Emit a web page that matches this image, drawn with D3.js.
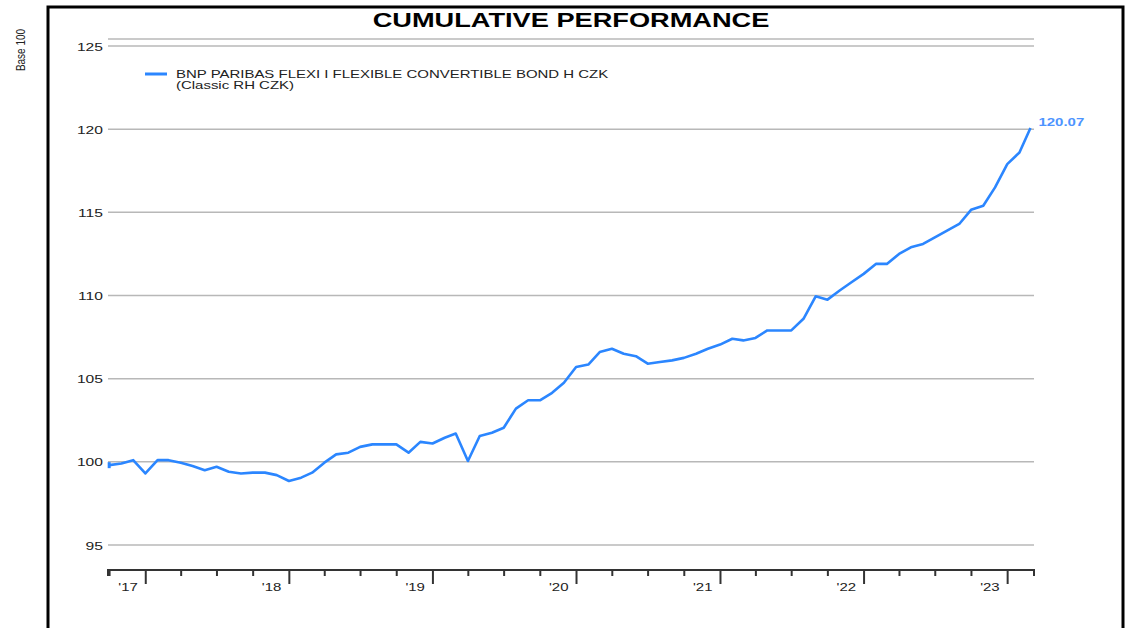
<!DOCTYPE html>
<html>
<head>
<meta charset="utf-8">
<script src="https://cdn.jsdelivr.net/npm/d3@7"></script>
<style>
	body { margin: 0; background: #fff; }
	text { font-family: "Liberation Sans", Arial, sans-serif; }
</style>
</head>
<body>
<svg id="chart"></svg>
<script>
// monthly index values (base 100), month ends from Sep 2016
var values = [
	99.8, 99.9, 100.1, 99.3, 100.1, 100.1, 99.95, 99.75, 99.5, 99.7, 99.4, 99.3,
	99.35, 99.35, 99.2, 98.85, 99.05, 99.35, 99.95, 100.45, 100.55, 100.9, 101.05, 101.05,
	101.05, 100.55, 101.2, 101.1, 101.45, 101.7, 100.05, 101.55, 101.75, 102.05, 103.2, 103.7,
	103.7, 104.15, 104.75, 105.7, 105.85, 106.6, 106.8, 106.5, 106.35, 105.9, 106.0, 106.1,
	106.25, 106.5, 106.8, 107.05, 107.4, 107.3, 107.45, 107.9, 107.9, 107.9, 108.6, 109.95,
	109.75, 110.3, 110.8, 111.3, 111.9, 111.9, 112.5, 112.9, 113.1, 113.5, 113.9, 114.3,
	115.15, 115.4, 116.5, 117.9, 118.6, 120.07
];
var yTicks = [95, 100, 105, 110, 115, 120, 125];
var years = [2017, 2018, 2019, 2020, 2021, 2022, 2023];
var yearLabels = ["'17", "'18", "'19", "'20", "'21", "'22", "'23"];
var seriesName = ["BNP PARIBAS FLEXI I FLEXIBLE CONVERTIBLE BOND H CZK", "(Classic RH CZK)"];
var lastLabel = "120.07";

var dates = values.map(function(v, i) { return new Date(2016, 9 + i, 0); });
var data = values.map(function(v, i) { return {time: dates[i], value: v}; });

var W = 1132, H = 628;
var SX = 1.36; // the picture is stretched sideways, text too
var left = 108, right = 1034, plotTop = 39, plotBottom = 570;
var blue = "#2b86ff";

var x = d3.scaleTime().domain([new Date(2016, 8, 27), new Date(2023, 2, 9)]).range([left, right]);
var y = d3.scaleLinear().domain([95, 125]).range([545, 46]);

var svg = d3.select("#chart").attr("width", W).attr("height", H);

function place(t, px, py) {
	return t.attr("transform", "translate(" + px + "," + py + ") scale(" + SX + ",1)");
}

// frame
svg.append("rect").attr("x", 48).attr("y", 7).attr("width", 1075).attr("height", 640)
	.attr("fill", "none").attr("stroke", "#000").attr("stroke-width", 3);

// title
place(svg.append("text"), (left + right) / 2, 27)
	.attr("text-anchor", "middle").style("font-size", "20px").style("font-weight", "bold")
	.attr("fill", "#000").text("CUMULATIVE PERFORMANCE");

// Base 100
svg.append("text")
	.attr("transform", "translate(25,50) scale(" + SX + ",1) rotate(-90)")
	.attr("text-anchor", "middle").style("font-size", "10px").attr("fill", "#222")
	.text("Base 100");

// grid lines
svg.append("line").attr("x1", left).attr("x2", right).attr("y1", plotTop).attr("y2", plotTop)
	.attr("stroke", "#b8b8b8").attr("stroke-width", 1.5);
svg.selectAll(".grid").data(yTicks).enter().append("line").attr("class", "grid")
	.attr("x1", left).attr("x2", right)
	.attr("y1", function(d) { return y(d); }).attr("y2", function(d) { return y(d); })
	.attr("stroke", "#b8b8b8").attr("stroke-width", 1.5);

// y labels
svg.selectAll(".ylab").data(yTicks).enter().append("text").attr("class", "ylab")
	.each(function(d) { place(d3.select(this), 103, y(d) + 4.5); })
	.attr("text-anchor", "end").style("font-size", "11.5px").attr("fill", "#222")
	.text(function(d) { return d; });

// x axis
var ax = svg.append("g").attr("stroke", "#333").attr("stroke-width", 2);
ax.append("line").attr("x1", left - 1).attr("x2", right + 1).attr("y1", plotBottom).attr("y2", plotBottom);
var quarters = d3.timeMonth.every(3).range(x.domain()[0], x.domain()[1]);
ax.selectAll(".tick").data(quarters).enter().append("line").attr("class", "tick")
	.attr("x1", function(d) { return x(d); }).attr("x2", function(d) { return x(d); })
	.attr("y1", plotBottom)
	.attr("y2", function(d) { return d.getMonth() === 0 ? plotBottom + 14 : plotBottom + 6; });
ax.selectAll(".end").data(x.domain()).enter().append("line").attr("class", "end")
	.attr("x1", function(d) { return x(d); }).attr("x2", function(d) { return x(d); })
	.attr("y1", plotBottom).attr("y2", plotBottom + 6);

svg.selectAll(".xlab").data(years).enter().append("text").attr("class", "xlab")
	.each(function(d) { place(d3.select(this), x(new Date(d, 0, 1)) - 8, 591); })
	.attr("text-anchor", "end").style("font-size", "11px").attr("fill", "#222")
	.text(function(d, i) { return yearLabels[i]; });

// legend
svg.append("line").attr("x1", 145).attr("x2", 167).attr("y1", 74).attr("y2", 74)
	.attr("stroke", blue).attr("stroke-width", 3);
seriesName.forEach(function(s, i) {
	place(svg.append("text"), 176, 77.5 + i * 11)
		.style("font-size", "11px").attr("fill", "#222").text(s);
});

// series
var line = d3.line().x(function(d) { return x(d.time); }).y(function(d) { return y(d.value); });
svg.append("path").datum(data).attr("d", line)
	.attr("fill", "none").attr("stroke", blue).attr("stroke-width", 2.6)
	.attr("stroke-linejoin", "round");
svg.append("rect").attr("x", x(data[0].time) - 1.5).attr("y", y(data[0].value) - 3)
	.attr("width", 3).attr("height", 6).attr("fill", blue);

var last = data[data.length - 1];
place(svg.append("text"), x(last.time) + 8, y(last.value) - 2)
	.style("font-size", "11px").style("font-weight", "bold").attr("fill", "#4d94ff")
	.text(lastLabel);
</script>
</body>
</html>
